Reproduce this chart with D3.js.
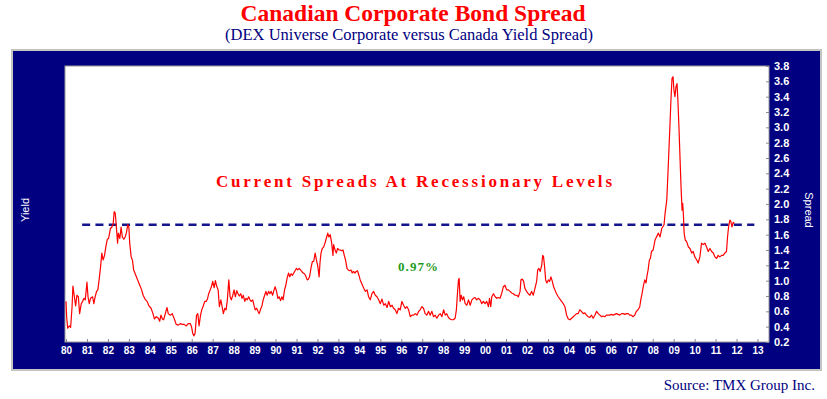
<!DOCTYPE html>
<html>
<head>
<meta charset="utf-8">
<script src="https://cdn.jsdelivr.net/npm/d3@7"></script>
<style>
  body { margin: 0; background: #fff; }
  svg { display: block; }
</style>
</head>
<body>
<svg id="chart" width="827" height="399"></svg>
<script>
/* ── Data: [decimal year, spread %] ─────────────────────────── */
const spread1980s = [
  [1980.00,0.73],[1980.03,0.53],[1980.08,0.38],[1980.16,0.41],[1980.22,0.39],[1980.29,0.66],[1980.33,0.93],[1980.40,0.79],
  [1980.46,0.67],[1980.52,0.81],[1980.59,0.79],[1980.65,0.57],[1980.73,0.70],[1980.79,0.73],[1980.86,0.77],[1980.92,0.75],
  [1981.00,0.98],[1981.05,0.79],[1981.11,0.70],[1981.17,0.77],[1981.27,0.79],[1981.33,0.70],[1981.39,0.79],[1981.46,0.86],
  [1981.52,0.88],[1981.58,1.01],[1981.65,1.18],[1981.71,1.36],[1981.77,1.27],[1981.84,1.33],[1981.90,1.44],[1981.97,1.54],
  [1982.03,1.55],[1982.08,1.62],[1982.12,1.68],[1982.19,1.70],[1982.25,1.74],[1982.30,1.90],[1982.35,1.88],[1982.39,1.75],
  [1982.46,1.49],[1982.50,1.62],[1982.57,1.55],[1982.63,1.70],[1982.69,1.57],[1982.76,1.54],[1982.82,1.57],[1982.88,1.62],
  [1982.95,1.73],[1983.00,1.70],[1983.04,1.49],[1983.11,1.31],[1983.17,1.27],[1983.23,1.14],[1983.33,1.07],[1983.42,1.01],
  [1983.52,0.94],[1983.61,0.88],[1983.68,0.81],[1983.77,0.76],[1983.87,0.73],[1983.96,0.67],[1984.06,0.64],[1984.15,0.57],
  [1984.22,0.50],[1984.31,0.53],[1984.41,0.51],[1984.47,0.47],[1984.53,0.55],[1984.60,0.50],[1984.66,0.49],[1984.72,0.55],
  [1984.82,0.65],[1984.88,0.57],[1984.98,0.55],[1985.07,0.57],[1985.17,0.50],[1985.26,0.43],[1985.36,0.42],[1985.45,0.44],
  [1985.55,0.43],[1985.64,0.43],[1985.74,0.41],[1985.83,0.44],[1985.93,0.44],[1985.99,0.40],[1986.05,0.31],[1986.10,0.28],
  [1986.16,0.31],[1986.23,0.55],[1986.29,0.57],[1986.35,0.41],[1986.42,0.55],[1986.48,0.62],[1986.55,0.67],[1986.62,0.73],
  [1986.69,0.73],[1986.75,0.76],[1986.81,0.83],[1986.88,0.88],[1986.94,0.92],[1987.00,0.99],[1987.07,0.91],[1987.13,1.00],
  [1987.19,0.93],[1987.26,0.88],[1987.32,0.66],[1987.39,0.75],[1987.45,0.66],[1987.51,0.57],[1987.58,0.64],[1987.64,0.62],
  [1987.70,0.75],[1987.77,1.01],[1987.83,0.79],[1987.89,0.75],[1987.96,0.81],[1988.02,0.88],[1988.08,0.79],[1988.15,0.87],
  [1988.21,0.83],[1988.27,0.80],[1988.34,0.83],[1988.40,0.77],[1988.46,0.81],[1988.53,0.73],[1988.59,0.77],[1988.65,0.75],
  [1988.72,0.79],[1988.78,0.75],[1988.84,0.73],[1988.91,0.75],[1988.97,0.68],[1989.03,0.62],[1989.10,0.64],[1989.16,0.60],
  [1989.22,0.57],[1989.29,0.63],[1989.35,0.67],[1989.41,0.75],[1989.48,0.81],[1989.54,0.86],[1989.60,0.81],[1989.67,0.86],
  [1989.73,0.83],[1989.79,0.86],[1989.86,0.81],[1989.92,0.87],[1989.98,0.92]
];

const spread1990s = [
  [1990.05,0.86],[1990.11,0.77],[1990.17,0.79],[1990.24,0.74],[1990.30,0.79],[1990.36,0.75],[1990.43,0.88],[1990.49,0.94],
  [1990.55,1.03],[1990.62,1.10],[1990.68,1.05],[1990.74,1.09],[1990.81,1.07],[1990.87,1.10],[1990.93,1.13],[1991.00,1.16],
  [1991.06,1.14],[1991.13,1.16],[1991.19,1.14],[1991.25,1.12],[1991.32,1.10],[1991.38,1.09],[1991.44,1.06],[1991.51,1.01],
  [1991.57,1.02],[1991.63,1.06],[1991.70,1.18],[1991.76,1.25],[1991.82,1.25],[1991.89,1.36],[1991.95,1.27],[1992.01,1.20],
  [1992.08,1.05],[1992.12,1.23],[1992.17,1.36],[1992.23,1.42],[1992.30,1.44],[1992.36,1.49],[1992.42,1.55],[1992.49,1.62],
  [1992.55,1.57],[1992.61,1.60],[1992.68,1.49],[1992.74,1.33],[1992.77,1.47],[1992.84,1.40],[1992.90,1.36],[1992.96,1.42],
  [1993.03,1.40],[1993.09,1.40],[1993.15,1.39],[1993.22,1.40],[1993.28,1.33],[1993.34,1.27],[1993.41,1.16],[1993.47,1.14],
  [1993.53,1.13],[1993.60,1.14],[1993.66,1.10],[1993.72,1.12],[1993.79,1.10],[1993.85,1.12],[1993.91,1.13],[1993.98,1.07],
  [1994.04,1.01],[1994.21,0.90],[1994.29,0.86],[1994.37,0.88],[1994.44,0.79],[1994.52,0.75],[1994.60,0.83],[1994.68,0.86],
  [1994.76,0.81],[1994.84,0.79],[1994.92,0.75],[1995.00,0.70],[1995.08,0.76],[1995.16,0.68],[1995.24,0.70],[1995.32,0.65],
  [1995.40,0.73],[1995.48,0.66],[1995.56,0.68],[1995.63,0.64],[1995.71,0.62],[1995.79,0.57],[1995.87,0.64],[1995.95,0.62],
  [1996.03,0.73],[1996.11,0.68],[1996.19,0.64],[1996.27,0.66],[1996.35,0.62],[1996.43,0.53],[1996.51,0.55],[1996.59,0.55],
  [1996.67,0.57],[1996.75,0.55],[1996.83,0.60],[1996.90,0.62],[1996.98,0.66],[1997.06,0.64],[1997.14,0.57],[1997.22,0.55],
  [1997.30,0.60],[1997.38,0.55],[1997.46,0.60],[1997.54,0.53],[1997.62,0.55],[1997.70,0.51],[1997.78,0.55],[1997.86,0.57],
  [1997.94,0.53],[1998.02,0.62],[1998.10,0.55],[1998.17,0.57],[1998.25,0.52],[1998.33,0.50],[1998.41,0.49],[1998.49,0.49],
  [1998.57,0.51],[1998.63,0.62],[1998.68,0.83],[1998.73,1.01],[1998.76,1.03],[1998.81,0.73],[1998.86,0.81],[1998.92,0.75],
  [1998.98,0.79],[1999.05,0.70],[1999.13,0.68],[1999.21,0.75],[1999.29,0.68],[1999.37,0.75],[1999.44,0.77],[1999.52,0.78],
  [1999.60,0.75],[1999.68,0.77],[1999.76,0.75],[1999.84,0.70],[1999.92,0.73]
];

const spread2000s = [
  [2000.00,0.70],[2000.08,0.73],[2000.16,0.66],[2000.21,0.77],[2000.27,0.66],[2000.32,0.79],[2000.40,0.83],[2000.48,0.79],
  [2000.56,0.77],[2000.63,0.78],[2000.71,0.77],[2000.79,0.83],[2000.87,0.92],[2000.95,0.94],[2001.03,0.88],[2001.11,0.88],
  [2001.19,0.86],[2001.27,0.84],[2001.35,0.83],[2001.43,0.81],[2001.51,0.81],[2001.59,0.79],[2001.67,0.86],[2001.71,1.01],
  [2001.78,1.02],[2001.84,0.99],[2001.90,0.90],[2001.98,0.86],[2002.06,0.83],[2002.14,0.81],[2002.22,0.86],[2002.30,0.81],
  [2002.38,0.90],[2002.46,0.99],[2002.51,1.14],[2002.57,1.16],[2002.63,1.12],[2002.70,1.20],[2002.75,1.33],[2002.79,1.31],
  [2002.84,1.18],[2002.89,1.01],[2002.95,0.97],[2003.02,1.01],[2003.08,0.99],[2003.14,1.05],[2003.21,0.99],[2003.27,0.92],
  [2003.33,0.88],[2003.41,0.83],[2003.49,0.79],[2003.57,0.76],[2003.65,0.73],[2003.73,0.70],[2003.81,0.66],[2003.89,0.55],
  [2003.97,0.50],[2004.05,0.49],[2004.13,0.51],[2004.21,0.53],[2004.29,0.55],[2004.37,0.57],[2004.44,0.57],[2004.52,0.62],
  [2004.60,0.60],[2004.68,0.57],[2004.76,0.58],[2004.84,0.55],[2004.92,0.53],[2005.00,0.52],[2005.08,0.55],[2005.16,0.51],
  [2005.24,0.55],[2005.32,0.60],[2005.40,0.57],[2005.48,0.55],[2005.56,0.53],[2005.63,0.54],[2005.71,0.53],[2005.79,0.55],
  [2005.87,0.55],[2005.95,0.55],[2006.03,0.56],[2006.11,0.55],[2006.19,0.56],[2006.27,0.57],[2006.35,0.56],[2006.43,0.55],
  [2006.51,0.57],[2006.59,0.57],[2006.67,0.56],[2006.75,0.57],[2006.83,0.57],[2006.90,0.55],[2006.98,0.55],[2007.06,0.53],
  [2007.14,0.55],[2007.22,0.60],[2007.30,0.62],[2007.38,0.66],[2007.43,0.75],[2007.49,0.83],[2007.56,0.94],[2007.62,1.01],
  [2007.68,0.97],[2007.73,1.07],[2007.78,1.14],[2007.84,1.27],[2007.89,1.29],[2007.94,1.38],[2008.02,1.40],[2008.11,1.53],
  [2008.27,1.62],[2008.35,1.57],[2008.43,1.68],[2008.54,1.73],[2008.59,1.88],[2008.67,2.05],[2008.74,2.49],[2008.82,3.01],
  [2008.87,3.36],[2008.92,3.64],[2008.97,3.66],[2009.01,3.49],[2009.06,3.40],[2009.11,3.53],[2009.16,3.57],[2009.20,3.36],
  [2009.25,3.01],[2009.30,2.62],[2009.35,2.23],[2009.40,1.92],[2009.43,2.01],[2009.46,1.88],[2009.50,1.62],[2009.55,1.53],
  [2009.62,1.51],[2009.70,1.44],[2009.78,1.42],[2009.86,1.36],[2009.93,1.38]
];

const spread2010s = [
  [2010.01,1.31],[2010.10,1.27],[2010.17,1.23],[2010.25,1.31],[2010.33,1.49],[2010.41,1.47],[2010.49,1.49],[2010.57,1.44],
  [2010.65,1.38],[2010.73,1.42],[2010.81,1.38],[2010.89,1.36],[2010.97,1.31],[2011.05,1.29],[2011.12,1.33],[2011.20,1.31],
  [2011.29,1.33],[2011.36,1.33],[2011.44,1.36],[2011.52,1.38],[2011.57,1.57],[2011.62,1.70],[2011.68,1.79],[2011.73,1.77],
  [2011.78,1.70],[2011.84,1.76],[2011.90,1.75]
];

// current-spread reference line: level and the years it spans
const currentLevel = 1.73;
const currentSpan = [1980.77, 2012.85];
const averageLabel = '0.97%';

const yearTicks = d3.range(1980, 2014);
const spreadTicks = d3.range(0.2, 3.81, 0.2);

/* ── Layout ─────────────────────────────────────────────── */
const plot = { left: 65, right: 769, top: 66, bottom: 342 };
const svg = d3.select('#chart');

const x = d3.scaleLinear().domain([1980, 2013]).range([66, 757.5]);
const y = d3.scaleLinear().domain([0.2, 3.8]).range([plot.bottom, plot.top]);

/* ── Titles ─────────────────────────────────────────────── */
svg.append('text')
  .attr('x', 413).attr('y', 20.5)
  .attr('text-anchor', 'middle')
  .attr('font-family', 'Liberation Serif, Times New Roman, serif')
  .attr('font-weight', 'bold').attr('font-size', 23.5)
  .attr('fill', '#ff0000')
  .text('Canadian Corporate Bond Spread');

svg.append('text')
  .attr('x', 409).attr('y', 39.5)
  .attr('text-anchor', 'middle')
  .attr('font-family', 'Liberation Serif, Times New Roman, serif')
  .attr('font-size', 16.5)
  .attr('fill', '#000080')
  .text('(DEX Universe Corporate versus Canada Yield Spread)');

svg.append('text')
  .attr('x', 815).attr('y', 390)
  .attr('text-anchor', 'end')
  .attr('font-family', 'Liberation Serif, Times New Roman, serif')
  .attr('font-size', 15)
  .attr('fill', '#000080')
  .text('Source: TMX Group Inc.');

/* ── Navy frame + white plot area ───────────────────────── */
svg.append('rect')
  .attr('x', 12).attr('y', 50).attr('width', 809).attr('height', 320)
  .attr('fill', '#000080')
  .attr('stroke', '#c4c4c4').attr('stroke-width', 2);

svg.append('rect')
  .attr('x', plot.left).attr('y', plot.top)
  .attr('width', plot.right - plot.left).attr('height', plot.bottom - plot.top)
  .attr('fill', '#fff')
  .attr('stroke', '#9a9a9a').attr('stroke-width', 1);

/* ── Axes ───────────────────────────────────────────────── */
const xAxis = svg.append('g')
  .attr('transform', `translate(0,${plot.bottom})`)
  .call(d3.axisBottom(x)
    .tickValues(yearTicks)
    .tickFormat(d => String(d % 100).padStart(2, '0'))
    .tickSize(-3)
    .tickPadding(5));

const yAxis = svg.append('g')
  .attr('transform', `translate(${plot.right},0)`)
  .call(d3.axisRight(y)
    .tickValues(spreadTicks)
    .tickFormat(d3.format('.1f'))
    .tickSize(-3)
    .tickPadding(5));

[xAxis, yAxis].forEach(ax => {
  ax.select('.domain').remove();
  ax.selectAll('.tick line').attr('stroke', '#8a8a8a');
  ax.selectAll('.tick text')
    .attr('fill', '#fff')
    .attr('font-family', 'Liberation Sans, Arial, sans-serif')
    .attr('font-weight', 'bold');
});
xAxis.selectAll('.tick text').attr('font-size', 10);
yAxis.selectAll('.tick text').attr('font-size', 11);

svg.append('text')
  .attr('transform', 'translate(29,210) rotate(-90)')
  .attr('text-anchor', 'middle')
  .attr('font-family', 'Liberation Sans, Arial, sans-serif')
  .attr('font-size', 11).attr('fill', '#fff')
  .text('Yield');

svg.append('text')
  .attr('transform', 'translate(805,210) rotate(90)')
  .attr('text-anchor', 'middle')
  .attr('font-family', 'Liberation Sans, Arial, sans-serif')
  .attr('font-size', 11).attr('fill', '#fff')
  .text('Spread');

/* ── Current-level dashed line ──────────────────────────── */
svg.append('line')
  .attr('x1', x(currentSpan[0])).attr('x2', x(currentSpan[1]))
  .attr('y1', y(currentLevel)).attr('y2', y(currentLevel))
  .attr('stroke', '#14148c').attr('stroke-width', 2.5)
  .attr('stroke-dasharray', '8,5.3');

/* ── Spread series ──────────────────────────────────────── */
const series = [...spread1980s, ...spread1990s, ...spread2000s, ...spread2010s];

svg.append('path')
  .datum(series)
  .attr('fill', 'none')
  .attr('stroke', '#ff0000').attr('stroke-width', 1.2)
  .attr('stroke-linejoin', 'round')
  .attr('d', d3.line().x(d => x(d[0])).y(d => y(d[1])));

/* ── Annotations ────────────────────────────────────────── */
svg.append('text')
  .attr('x', 216).attr('y', 187)
  .attr('textLength', 396).attr('lengthAdjust', 'spacing')
  .attr('font-family', 'Liberation Serif, Times New Roman, serif')
  .attr('font-weight', 'bold').attr('font-size', 17)
  .attr('fill', '#ff0000')
  .text('Current Spreads At Recessionary Levels');

svg.append('text')
  .attr('x', 398).attr('y', 271)
  .attr('textLength', 40).attr('lengthAdjust', 'spacing')
  .attr('font-family', 'Liberation Serif, Times New Roman, serif')
  .attr('font-weight', 'bold').attr('font-size', 13)
  .attr('fill', '#1e9a1e')
  .text(averageLabel);
</script>
</body>
</html>
